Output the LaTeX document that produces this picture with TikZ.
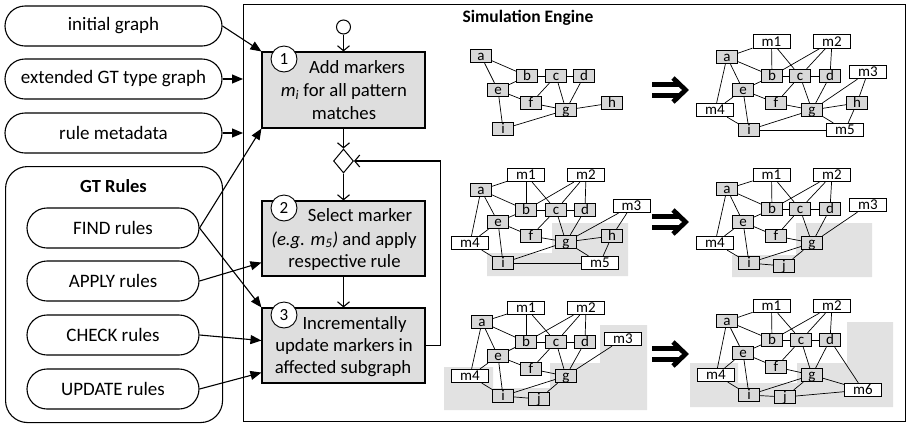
\documentclass[tikz,border=0pt]{standalone}
\usepackage{fontspec}
\setmainfont{Carlito}
\usetikzlibrary{arrows.meta,shapes.geometric,calc}
\definecolor{boxgray}{RGB}{222,222,222}
\definecolor{nodegray}{RGB}{216,216,216}
\definecolor{regiongray}{RGB}{226,226,226}
\begin{document}
\begin{tikzpicture}[x=1pt,y=-1pt,
  pill/.style={draw, line width=1.1pt, rounded corners=20pt, minimum height=40pt, inner sep=0pt, font=\fontsize{19}{21}\selectfont},
  toppill/.style={pill, minimum width=217pt},
  rulepill/.style={pill, minimum width=172pt},
  proc/.style={draw, line width=1.1pt, fill=boxgray, minimum width=163pt, inner sep=0pt},
  ptext/.style={anchor=base, inner sep=0pt, font=\fontsize{18.7}{21}\selectfont},
  num/.style={draw, circle, fill=white, line width=0.9pt, minimum size=26pt, inner sep=0pt, font=\fontsize{17}{17}\selectfont},
  inarrow/.style={line width=1.1pt, -{Triangle[length=11pt,width=9pt]}},
  flow/.style={line width=1.1pt, -{Straight Barb[length=5pt,width=12pt]}},
  gn/.style={draw, fill=nodegray, line width=0.8pt, minimum width=20.5pt, minimum height=13.5pt, inner sep=0pt, text height=10pt, text depth=0.5pt, font=\fontsize{15}{15}\selectfont},
  mn/.style={gn, fill=white, minimum width=37pt},
  ge/.style={line width=0.7pt},
  region/.style={fill=regiongray, draw=none},
  bigarrow/.style={line width=4.8pt}
]
\useasboundingbox (0,0) rectangle (908,424);

% gray regions
\fill[region] (487,253) -- (552,253) -- (552,223) -- (628,223) -- (628,276) -- (487,276) -- cycle;
\fill[region] (732,255) -- (796,255) -- (796,223) -- (872,223) -- (872,277) -- (732,277) -- cycle;
\fill[region] (444,367) -- (493,367) -- (493,388) -- (550,388) -- (550,363) -- (600,363) -- (600,325) -- (647,325) -- (647,410) -- (444,410) -- cycle;
\fill[region] (690,363) -- (738,363) -- (738,383) -- (797,383) -- (797,363) -- (847,363) -- (847,322) -- (893,322) -- (893,407) -- (690,407) -- cycle;

% left column
\node[toppill] (init) at (113.5,26) {initial graph};
\node[toppill] (ext) at (113.5,79) {extended GT type graph};
\node[toppill] (meta) at (113.5,133) {rule metadata};
\node[draw, line width=1.1pt, rounded corners=22pt, minimum width=217pt, minimum height=256pt, anchor=north west] (gtr) at (5,166) {};
\node[font=\bfseries\fontsize{18.5}{20}\selectfont] (gtrtitle) at (113.5,186) {GT Rules};
\node[rulepill] (find) at (113,228) {FIND rules};
\node[rulepill] (apply) at (113,281) {APPLY rules};
\node[rulepill] (check) at (113,335) {CHECK rules};
\node[rulepill] (update) at (113,389) {UPDATE rules};

% engine
\node[draw, line width=1.1pt, minimum width=662pt, minimum height=417pt, inner sep=0pt, anchor=north west] (engine) at (243,4) {};
\node[font=\bfseries\fontsize{17.5}{20}\selectfont] (title) at (528,18) {Simulation Engine};

\node[proc, minimum height=76pt] (b1) at (343.5,90) {};
\node[proc, minimum height=75pt] (b2) at (343.5,238.5) {};
\node[proc, minimum height=75pt] (b3) at (343.5,345.5) {};
\node[circle, draw, fill=white, minimum size=14pt, inner sep=0pt, line width=1pt] (start) at (343.5,27) {};
\node[diamond, draw, fill=white, minimum width=20pt, minimum height=24pt, inner sep=0pt, line width=1pt] (dec) at (343.5,161) {};

\node[num] (n1) at (284,59) {1};
\node[num] (n2) at (284,208) {2};
\node[num] (n3) at (284,315) {3};

\node[ptext] (t11) at (357,73) {Add markers};
\node[ptext] (t12) at (344,96) {{\itshape m\textsubscript{i}} for all pattern};
\node[ptext] (t13) at (344,119) {matches};
\node[ptext] (t21) at (360,221) {Select marker};
\node[ptext] (t22) at (344,245) {{\itshape (e.g. m\textsubscript{5})} and apply};
\node[ptext] (t23) at (344.5,267) {respective rule};
\node[ptext] (t31) at (354.5,329) {Incrementally};
\node[ptext] (t32) at (344,351) {update markers in};
\node[ptext] (t33) at (343,373) {affected subgraph};

\draw[flow] (start) -- (b1);
\draw[flow] (b1) -- (dec);
\draw[flow] (dec) -- (b2);
\draw[flow] (b2) -- (b3);
\draw[flow] (b3.east) -- ++(15,0) |- (dec.east);

% input arrows
\draw[inarrow] (init.east) -- (b1.north west);
\draw[inarrow] (ext.east) -- (ext.east -| engine.west);
\draw[inarrow] (meta.east) -- (meta.east -| engine.west);
\draw[inarrow] (find.east) -- (b1.south west);
\draw[inarrow] (find.east) -- (b3.north west);
\draw[inarrow] (apply.east) -- ([yshift=14pt]b2.south west);
\draw[inarrow] (check.east) -- ([yshift=43pt]b3.south west);
\draw[inarrow] (update.east) -- ([yshift=11pt]b3.south west);

% big arrows
\foreach \yy in {90,222,354} {
  \draw[bigarrow] (652,\yy-5.5) -- (680,\yy-5.5);
  \draw[bigarrow] (652,\yy+5.5) -- (680,\yy+5.5);
  \draw[bigarrow, line join=miter] (673,\yy-12) -- (685.5,\yy) -- (673,\yy+12);
}

\def\commonedges{m1/a,m1/b,m1/c,m2/b,m2/c,m2/d,a/b,a/e,a/m4,b/c,c/d,e/b,e/f,e/m4,e/i,c/f,c/g,d/g,f/g,m4/i,i/g}

% graph 1
\foreach \n/\x/\y in {a/481/56,b/527/76,c/556/76,d/584/76,e/498/90,f/531/103,g/566/110,h/612/103,i/503/129}
  \node[gn] (G1\n) at (\x,\y) {\n};
\foreach \u/\v in {a/b,a/e,e/b,b/c,c/d,c/f,e/f,c/g,d/g,f/g,g/h,e/i,i/g}
  \draw[ge] (G1\u) -- (G1\v);

% graph 2
\foreach \n/\x/\y in {a/727/57,b/772/76,c/800/76,d/830/76,e/743/90,f/776/103,g/812/110,h/857/103,i/749/130}
  \node[gn] (G2\n) at (\x,\y) {\n};
\foreach \n/\x/\y in {m1/771.5/41.5,m2/832/41.5,m3/868/72,m4/715/110,m5/845/130}
  \node[mn] (G2\n) at (\x,\y) {\n};
\foreach \u/\v in \commonedges \draw[ge] (G2\u) -- (G2\v);
\foreach \u/\v in {g/h,g/m3,m3/h,g/m5,h/m5,i/m5} \draw[ge] (G2\u) -- (G2\v);

% graph 3
\foreach \n/\x/\y in {a/481/190,b/526/210,c/556/210,d/585/210,e/498/222,f/531/236,g/566/242,h/612/236,i/503/263}
  \node[gn] (G3\n) at (\x,\y) {\n};
\foreach \n/\x/\y in {m1/526/175,m2/586/175,m3/631.5/206,m4/470/243,m5/600/263}
  \node[mn] (G3\n) at (\x,\y) {\n};
\foreach \u/\v in \commonedges \draw[ge] (G3\u) -- (G3\v);
\foreach \u/\v in {g/h,g/m3,m3/h,g/m5,h/m5,i/m5} \draw[ge] (G3\u) -- (G3\v);

% graph 4
\foreach \n/\x/\y in {a/727/189,b/772/209,c/800/209,d/830/209,e/743/222,f/776/236,g/812/243,i/749/263,j/784/266}
  \node[gn] (G4\n) at (\x,\y) {\n};
\foreach \n/\x/\y in {m1/771.5/175,m2/832/175,m3/868/205,m4/715/243}
  \node[mn] (G4\n) at (\x,\y) {\n};
\foreach \u/\v in \commonedges \draw[ge] (G4\u) -- (G4\v);
\foreach \u/\v in {g/m3,i/j,j/g} \draw[ge] (G4\u) -- (G4\v);

% graph 5
\foreach \n/\x/\y in {a/482/322,b/526/342,c/556/342,d/585/342,e/498/356,f/531/369,g/566/376,i/503/396,j/539/399}
  \node[gn] (G5\n) at (\x,\y) {\n};
\foreach \n/\x/\y in {m1/526/308,m2/586/308,m3/623/339,m4/470/376}
  \node[mn] (G5\n) at (\x,\y) {\n};
\foreach \u/\v in \commonedges \draw[ge] (G5\u) -- (G5\v);
\foreach \u/\v in {g/m3,i/j,j/g} \draw[ge] (G5\u) -- (G5\v);

% graph 6
\foreach \n/\x/\y in {a/727/321,b/772/340,c/801/340,d/830/340,e/743/353,f/776/367,g/812/375,i/749/395,j/785/397}
  \node[gn] (G6\n) at (\x,\y) {\n};
\foreach \n/\x/\y in {m1/771.5/306,m2/832/306,m4/716/375,m6/863/390}
  \node[mn] (G6\n) at (\x,\y) {\n};
\foreach \u/\v in \commonedges \draw[ge] (G6\u) -- (G6\v);
\foreach \u/\v in {d/m6,g/m6,i/j,j/g,j/m6} \draw[ge] (G6\u) -- (G6\v);

\end{tikzpicture}
\end{document}
